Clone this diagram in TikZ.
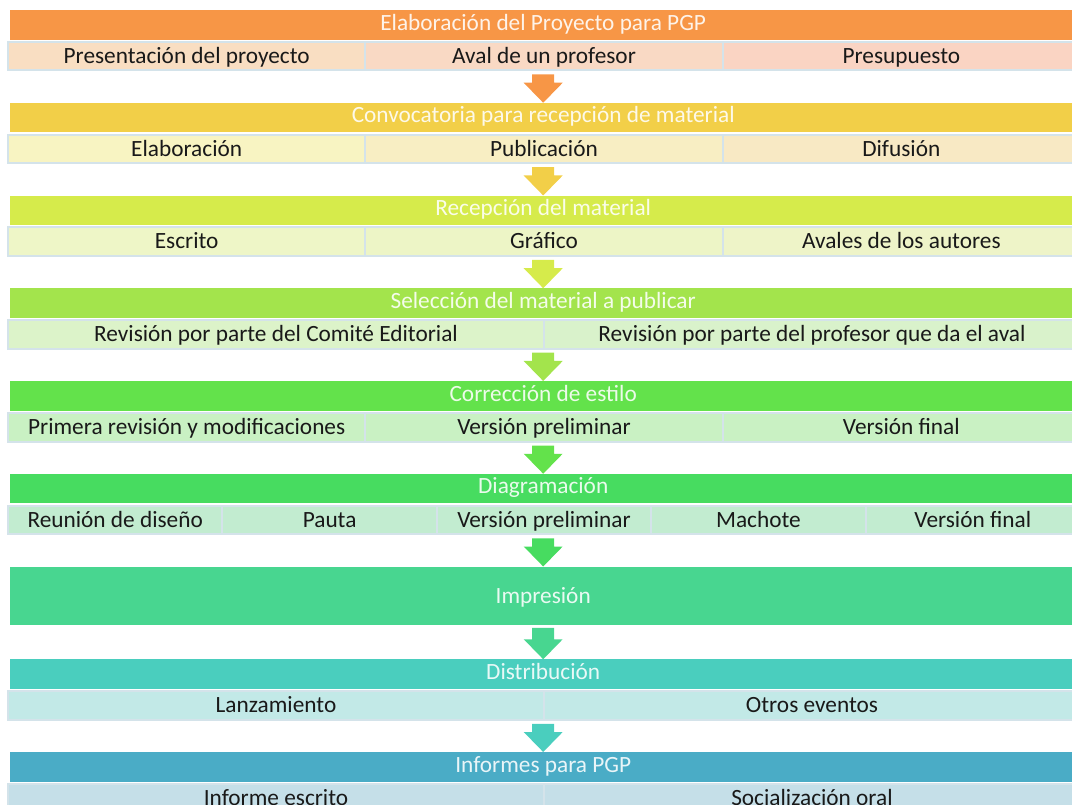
\documentclass[tikz,border=0pt]{standalone}
\usepackage{fontspec}
\setmainfont{Carlito}
\usetikzlibrary{calc}
\definecolor{bordc}{HTML}{D4E3EA}
\definecolor{cA}{HTML}{F79646}
\definecolor{cB}{HTML}{F2CF48}
\definecolor{cC}{HTML}{D6EB4B}
\definecolor{cD}{HTML}{A3E44C}
\definecolor{cE}{HTML}{63E24B}
\definecolor{cF}{HTML}{47DC60}
\definecolor{cG}{HTML}{48D690}
\definecolor{cH}{HTML}{4ACEBE}
\definecolor{cI}{HTML}{4AACC6}
\definecolor{sA1}{HTML}{F9DEC2}
\definecolor{sA2}{HTML}{F9D9C4}
\definecolor{sA3}{HTML}{FAD4C3}
\definecolor{sB1}{HTML}{F8F4C2}
\definecolor{sB2}{HTML}{F8EEC3}
\definecolor{sB3}{HTML}{F8E9C4}
\definecolor{sC1}{HTML}{EEF6C7}
\definecolor{sC2}{HTML}{EDF5C6}
\definecolor{sC3}{HTML}{EEF4C8}
\definecolor{sD1}{HTML}{DCF3C9}
\definecolor{sD2}{HTML}{D9F2CB}
\definecolor{sE1}{HTML}{C9F1C3}
\definecolor{sF1}{HTML}{C2ECD0}
\definecolor{sH1}{HTML}{C2E9E7}
\definecolor{sI1}{HTML}{C5DFE8}
\tikzset{
  titlebar/.style={rectangle, anchor=north west, inner sep=0pt, minimum width=1066pt, minimum height=29.5pt, text height=15pt, text depth=4.5pt, text=white!88!#1, fill=#1},
  subcell/.style={rectangle, anchor=north west, inner sep=0pt, minimum height=28.5pt, text height=15pt, text depth=0.5pt, draw=bordc, line width=2pt, fill=#1, text=black!90},
}
\newcommand\flowarrow[3]{%
  \fill[#1] let \p1=(#2.south), \p2=(#3.north) in
    (\x2-11pt,\y1-3pt) -- (\x2+11pt,\y1-3pt) -- (\x2+11pt,\y2+20pt) -- (\x2+19.5pt,\y2+20pt)
    -- (\x2,\y2) -- (\x2-19.5pt,\y2+20pt) -- (\x2-11pt,\y2+20pt) -- cycle;}
\begin{document}
\begin{tikzpicture}[x=1pt,y=-1pt,font=\fontsize{23.3}{28}\selectfont]
\useasboundingbox (0,0) rectangle (1072,805);
\clip (0,0) rectangle (1072,805);
% row 1
\node[titlebar=cA] (t1) at (10,10) {Elaboración del Proyecto para PGP};
\node[subcell=sA1, minimum width=357.33pt] (s1a) at (7,41) {Presentación del proyecto};
\node[subcell=sA2, minimum width=357.33pt] (s1b) at (364.33,41) {Aval de un profesor};
\node[subcell=sA3, minimum width=357.33pt] (s1c) at (721.67,41) {Presupuesto};
% row 2
\node[titlebar=cB] (t2) at (10,102.75) {Convocatoria para recepción de material};
\node[subcell=sB1, minimum width=357.33pt] (s2a) at (7,133.75) {Elaboración};
\node[subcell=sB2, minimum width=357.33pt] (s2b) at (364.33,133.75) {Publicación};
\node[subcell=sB3, minimum width=357.33pt] (s2c) at (721.67,133.75) {Difusión};
% row 3
\node[titlebar=cC] (t3) at (10,195.5) {Recepción del material};
\node[subcell=sC1, minimum width=357.33pt] (s3a) at (7,226.5) {Escrito};
\node[subcell=sC2, minimum width=357.33pt] (s3b) at (364.33,226.5) {Gráfico};
\node[subcell=sC3, minimum width=357.33pt] (s3c) at (721.67,226.5) {Avales de los autores};
% row 4
\node[titlebar=cD] (t4) at (10,288.25) {Selección del material a publicar};
\node[subcell=sD1, minimum width=536pt] (s4a) at (7,319.25) {Revisión por parte del Comité Editorial};
\node[subcell=sD2, minimum width=536pt] (s4b) at (543,319.25) {Revisión por parte del profesor que da el aval};
% row 5
\node[titlebar=cE] (t5) at (10,381) {Corrección de estilo};
\node[subcell=sE1, minimum width=357.33pt] (s5a) at (7,412) {Primera revisión y modificaciones};
\node[subcell=sE1, minimum width=357.33pt] (s5b) at (364.33,412) {Versión preliminar};
\node[subcell=sE1, minimum width=357.33pt] (s5c) at (721.67,412) {Versión final};
% row 6
\node[titlebar=cF] (t6) at (10,473.75) {Diagramación};
\node[subcell=sF1, minimum width=214.4pt] (s6a) at (7,504.75) {Reunión de diseño};
\node[subcell=sF1, minimum width=214.4pt] (s6b) at (221.4,504.75) {Pauta};
\node[subcell=sF1, minimum width=214.4pt] (s6c) at (435.8,504.75) {Versión preliminar};
\node[subcell=sF1, minimum width=214.4pt] (s6d) at (650.2,504.75) {Machote};
\node[subcell=sF1, minimum width=214.4pt] (s6e) at (864.6,504.75) {Versión final};
% row 7
\node[titlebar=cG, minimum height=58pt, text height=16pt, text depth=0pt] (t7) at (10,566.5) {Impresión};
% row 8
\node[titlebar=cH] (t8) at (10,659.25) {Distribución};
\node[subcell=sH1, minimum width=536pt] (s8a) at (7,690.25) {Lanzamiento};
\node[subcell=sH1, minimum width=536pt] (s8b) at (543,690.25) {Otros eventos};
% row 9
\node[titlebar=cI] (t9) at (10,752) {Informes para PGP};
\node[subcell=sI1, minimum width=536pt] (s9a) at (7,783) {Informe escrito};
\node[subcell=sI1, minimum width=536pt] (s9b) at (543,783) {Socialización oral};
% arrows
\flowarrow{cA}{s1b}{t2}
\flowarrow{cB}{s2b}{t3}
\flowarrow{cC}{s3b}{t4}
\flowarrow{cD}{s4a}{t5}
\flowarrow{cE}{s5b}{t6}
\flowarrow{cF}{s6c}{t7}
\flowarrow{cG}{t7}{t8}
\flowarrow{cH}{s8a}{t9}
\end{tikzpicture}
\end{document}
